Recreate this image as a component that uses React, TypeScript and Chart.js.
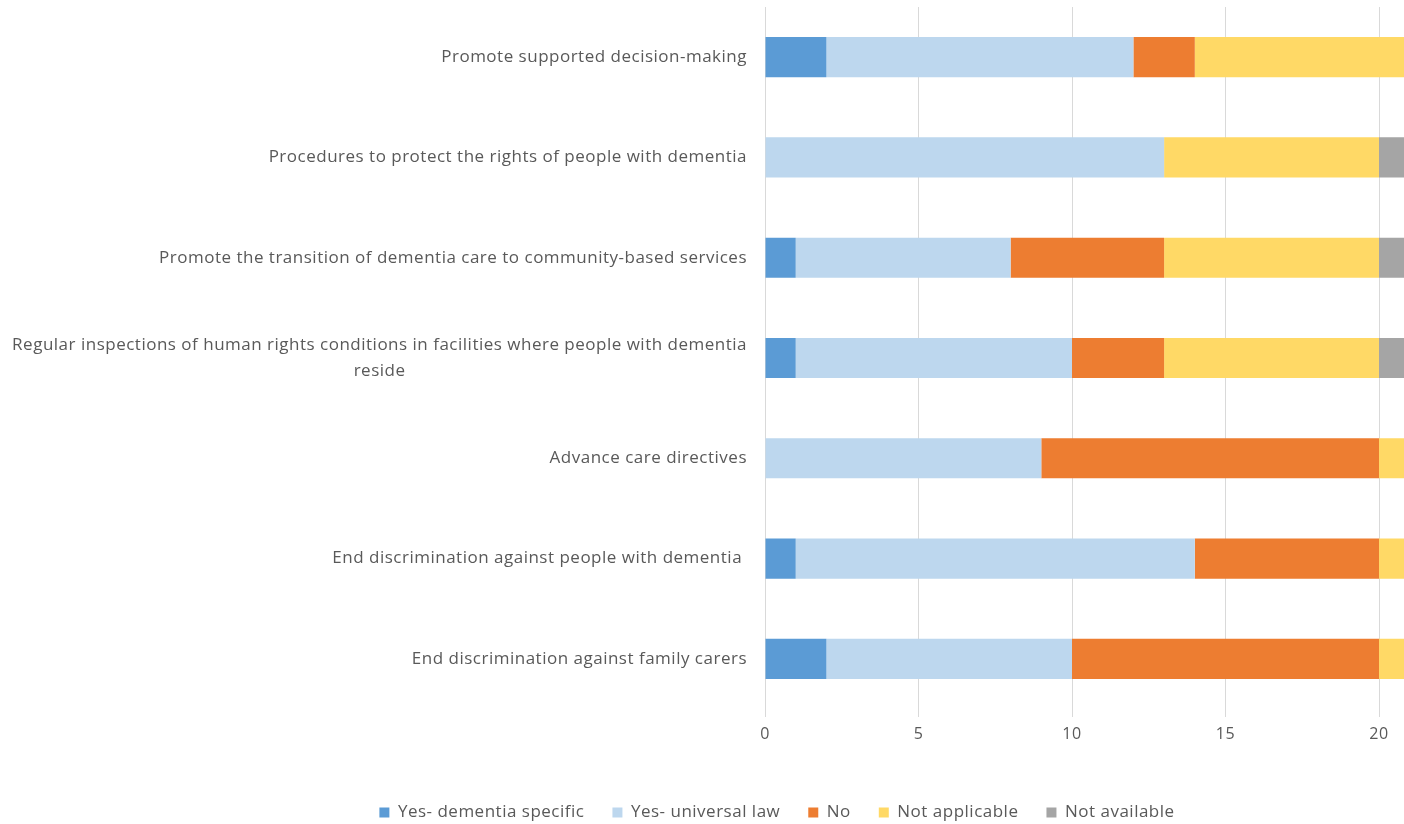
import React, { useEffect, useRef } from "react";
import { Chart, registerables } from "chart.js";

Chart.register(...registerables);

const categories: (string | string[])[] = [
  "Promote supported decision-making",
  "Procedures to protect the rights of people with dementia",
  "Promote the transition of dementia care to community-based services",
  [
    "Regular inspections of human rights conditions in facilities where people with dementia",
    "reside",
  ],
  "Advance care directives",
  "End discrimination against people with dementia ",
  "End discrimination against family carers",
];

const seriesNames = [
  "Yes- dementia specific",
  "Yes- universal law",
  "No",
  "Not applicable",
  "Not available",
];

const dementiaSpecific = [2, 0, 1, 1, 0, 1, 2];
const universalLaw = [10, 13, 7, 9, 9, 13, 8];
const noValues = [2, 0, 5, 3, 11, 6, 10];
const notApplicable = [7, 7, 7, 7, 1, 1, 1];
const notAvailable = [0, 1, 1, 1, 0, 0, 0];

const xTicks = [0, 5, 10, 15, 20, 25];
const xMax = 25.7;

const colors = ["#5B9BD5", "#BDD7EE", "#ED7D31", "#FFD966", "#A5A5A5"];

const FONT = "'Open Sans', 'DejaVu Sans', sans-serif";
const TEXT_COLOR = "#595959";
const SPACING = "0.5px";

const spacingPlugin = {
  id: "letterSpacing",
  afterInit(chart: any) {
    chart.ctx.letterSpacing = SPACING;
  },
  beforeUpdate(chart: any) {
    chart.ctx.letterSpacing = SPACING;
  },
  beforeDraw(chart: any) {
    chart.ctx.letterSpacing = SPACING;
  },
};

const yLabelPlugin = {
  id: "yLabels",
  afterDraw(chart: any) {
    const ys = chart.scales.y;
    const ctx = chart.ctx;
    const rightX = chart.chartArea.left - 18;
    ctx.save();
    ctx.letterSpacing = SPACING;
    ctx.font = `17px ${FONT}`;
    ctx.fillStyle = TEXT_COLOR;
    ctx.textAlign = "center";
    ctx.textBaseline = "middle";
    const lh = 26;
    categories.forEach((lab, i) => {
      const lines = Array.isArray(lab) ? lab : [lab];
      const y = ys.getPixelForValue(i);
      const maxW = Math.max(...lines.map((l) => ctx.measureText(l).width));
      const cx = rightX - maxW / 2;
      lines.forEach((l, j) => {
        ctx.fillText(l, cx, y - ((lines.length - 1) * lh) / 2 + j * lh);
      });
    });
    ctx.restore();
  },
};

export default function App() {
  const ref = useRef<HTMLCanvasElement | null>(null);
  useEffect(() => {
    if (!ref.current) return;
    const datasets = [dementiaSpecific, universalLaw, noValues, notApplicable, notAvailable].map(
      (d, i) => ({
        label: seriesNames[i],
        data: d,
        backgroundColor: colors[i],
        borderWidth: 0,
        categoryPercentage: 1,
        barPercentage: 0.4,
      })
    );
    const chart = new Chart(ref.current, {
      type: "bar",
      data: { labels: categories.map((c) => (Array.isArray(c) ? c.join(" ") : c)), datasets },
      plugins: [spacingPlugin, yLabelPlugin],
      options: {
        indexAxis: "y",
        animation: false,
        responsive: false,
        layout: { padding: { left: 0, right: 0, top: 7, bottom: 0 } },
        scales: {
          x: {
            stacked: true,
            min: 0,
            max: xMax,
            afterBuildTicks: (scale: any) => {
              scale.ticks = xTicks.map((v) => ({ value: v }));
            },
            afterFit: (scale: any) => {
              scale.height = 67;
            },
            border: { display: false },
            grid: { color: "#D9D9D9", lineWidth: 1, drawTicks: true, tickLength: 8, tickColor: "#D9D9D9" },
            ticks: { color: TEXT_COLOR, font: { size: 16, family: FONT }, padding: 8 },
          },
          y: {
            stacked: true,
            display: true,
            grid: { display: false },
            border: { display: false },
            ticks: { display: false },
            afterFit: (scale: any) => {
              scale.width = 765;
            },
          },
        },
        plugins: {
          tooltip: { enabled: false },
          legend: {
            position: "bottom",
            labels: {
              boxWidth: 10,
              boxHeight: 10,
              padding: 28,
              color: TEXT_COLOR,
              font: { size: 17, family: FONT },
            },
          },
        },
      },
    });
    return () => chart.destroy();
  }, []);
  return (
    <div
      style={{
        position: "fixed",
        left: 0,
        top: 0,
        width: 1404,
        height: 824,
        overflow: "hidden",
        background: "#fff",
      }}
    >
      <canvas ref={ref} width={1554} height={831} style={{ width: 1554, height: 831, display: "block" }} />
    </div>
  );
}
